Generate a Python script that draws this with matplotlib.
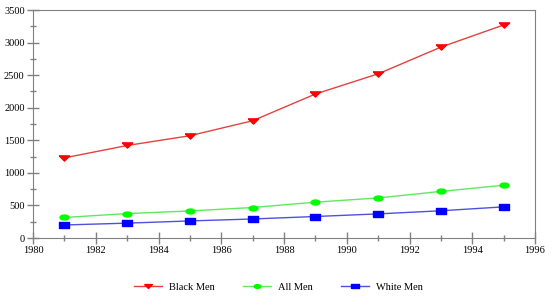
import numpy as np
import matplotlib.pyplot as plt
from matplotlib.ticker import MultipleLocator

years = [1981, 1983, 1985, 1987, 1989, 1991, 1993, 1995]
black_men = [1230, 1420, 1570, 1800, 2210, 2520, 2930, 3270]
all_men = [315, 375, 415, 468, 550, 615, 715, 810]
white_men = [200, 228, 262, 292, 330, 370, 418, 478]

plt.rcParams['font.family'] = ['Liberation Serif', 'DejaVu Serif']

# flat, wide marker shapes like the original chart
tri = [(-1, 0.5), (1, 0.5), (0, -0.5), (-1, 0.5)]
rect = [(-1, -0.5), (1, -0.5), (1, 0.5), (-1, 0.5), (-1, -0.5)]
t = np.linspace(0, 2 * np.pi, 25)
oval = list(zip(np.cos(t), 0.55 * np.sin(t)))

fig = plt.figure(figsize=(5.57, 3.02), dpi=100)
ax = fig.add_axes([33 / 557, 64 / 302, 502 / 557, 228 / 302])

ax.plot(years, black_men, color='#e84040', lw=1, marker=tri, ms=7.5,
        mfc='#ff0000', mec='#ff0000', label='Black Men')
ax.plot(years, all_men, color='#60e860', lw=1, marker=oval, ms=6.5,
        mfc='#00ff00', mec='#00ff00', label='All Men')
ax.plot(years, white_men, color='#5050e0', lw=1, marker=rect, ms=7.5,
        mfc='#0000ff', mec='#0000ff', label='White Men')

ax.set_xlim(1980, 1996)
ax.set_ylim(0, 3500)
ax.xaxis.set_major_locator(MultipleLocator(2))
ax.xaxis.set_minor_locator(MultipleLocator(1))
ax.yaxis.set_major_locator(MultipleLocator(500))
ax.yaxis.set_minor_locator(MultipleLocator(250))
ax.tick_params(which='major', direction='inout', length=8, width=1,
               color='#808080', labelsize=7.5, pad=2)
ax.tick_params(which='minor', direction='inout', length=5, width=1,
               color='#808080')
for s in ax.spines.values():
    s.set_color('#808080')

fig.legend(loc='center', bbox_to_anchor=(0.5, 15 / 302), ncol=3, frameon=False,
           fontsize=7.5, columnspacing=2.7, handlelength=2.7,
           handletextpad=0.67, markerscale=0.75)

fig.savefig('out.png', dpi=100)
